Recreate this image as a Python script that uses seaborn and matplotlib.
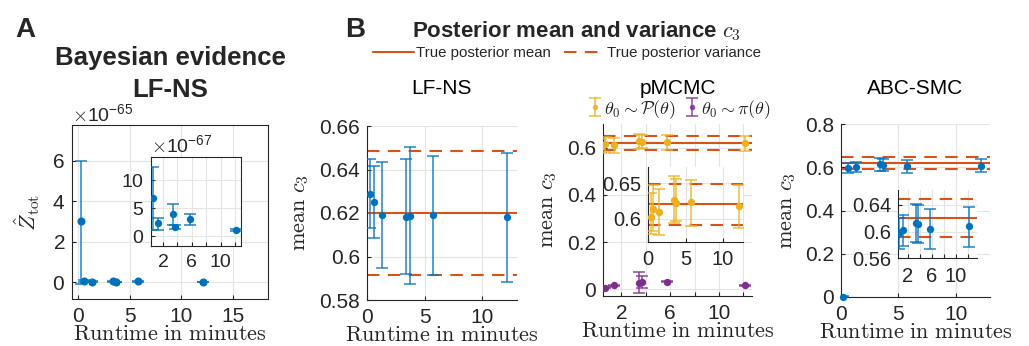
import numpy as np
import matplotlib
matplotlib.use("Agg")
import matplotlib.pyplot as plt
from matplotlib.lines import Line2D
from matplotlib.ticker import FuncFormatter
import seaborn as sns

# ---- data ----
# LF-NS runs: runtime in minutes
lfns_time = [0.25, 0.6, 1.3, 3.4, 3.7, 5.75, 12.1]
# Bayesian evidence Z_tot with lower / upper error bar ends
z_tot = [3.0e-65, 6.8e-67, 2.3e-67, 3.9e-67, 1.6e-67, 3.0e-67, 1.1e-67]
z_low = [-0.1e-65, 1.1e-67, 1.1e-67, 2.0e-67, 1.2e-67, 2.0e-67, 0.9e-67]
z_high = [6.0e-65, 12.4e-67, 3.3e-67, 5.7e-67, 2.0e-67, 3.9e-67, 1.3e-67]
# LF-NS posterior mean of c3
lfns_c3 = [0.6287, 0.6249, 0.6191, 0.6183, 0.6185, 0.6191, 0.6180]
lfns_low = [0.6130, 0.6084, 0.5946, 0.5921, 0.5873, 0.5915, 0.5884]
lfns_high = [0.6447, 0.6418, 0.6436, 0.6448, 0.6502, 0.6463, 0.6474]

# pMCMC runs
pm_time = [0.35, 0.67, 1.42, 3.48, 3.72, 5.78, 12.1]
pm_prior_c3 = [0.6024, 0.6136, 0.6094, 0.6266, 0.6220, 0.6234, 0.6183]
pm_prior_low = [0.579, 0.5836, 0.5776, 0.5948, 0.597, 0.5906, 0.5874]
pm_prior_high = [0.636, 0.6467, 0.641, 0.6593, 0.655, 0.6547, 0.6477]
pm_pi_c3 = [0.005, 0.007, 0.017, 0.028, 0.031, 0.033, 0.017]
pm_pi_low = [0.003, 0.004, 0.014, -0.017, 0.005, 0.030, 0.014]
pm_pi_high = [0.007, 0.010, 0.020, 0.075, 0.055, 0.036, 0.020]

# ABC-SMC runs
abc_time = [0.2, 0.6, 1.3, 3.4, 3.7, 5.8, 12.2]
abc_c3 = [0.002, 0.598, 0.6025, 0.613, 0.611, 0.604, 0.608]
abc_low = [0.0, 0.574, 0.579, 0.584, 0.583, 0.574, 0.577]
abc_high = [0.004, 0.620, 0.625, 0.641, 0.640, 0.633, 0.636]

# true posterior of c3
c3_true_mean = 0.6200
c3_true_spread = 0.0285

BLUE = "#0072BD"
RED = "#D95319"
YELLOW = "#EDB120"
PURPLE = "#7E2F8E"
INK = "#262626"

sns.set_theme(style="whitegrid")
plt.rcParams.update({
    "font.family": ["Liberation Sans", "DejaVu Sans"],
    "mathtext.fontset": "cm",
    "axes.edgecolor": INK,
    "axes.linewidth": 0.8,
    "grid.color": "#e4e4e4",
    "grid.linewidth": 0.8,
    "xtick.color": INK,
    "ytick.color": INK,
    "xtick.direction": "in",
    "ytick.direction": "in",
    "xtick.bottom": True,
    "ytick.left": True,
    "xtick.major.size": 3,
    "ytick.major.size": 3,
    "xtick.major.width": 0.8,
    "ytick.major.width": 0.8,
    "xtick.major.pad": 6,
    "ytick.major.pad": 5,
    "xtick.labelsize": 15,
    "ytick.labelsize": 15,
    "axes.labelsize": 16,
    "axes.labelcolor": INK,
})

W, H = 1029, 346
fig = plt.figure(figsize=(W / 100, H / 100), dpi=100)


def px_axes(left, top, right, bottom):
    return fig.add_axes([left / W, 1 - bottom / H, (right - left) / W, (bottom - top) / H])


def draw_runs(ax, t, m, lo, hi, color, clip=True, label=None, s=28):
    m = np.asarray(m)
    yerr = [m - np.asarray(lo), np.asarray(hi) - m]
    eb = ax.errorbar(t, m, yerr=yerr, fmt="o", ms=3, color=color, ecolor=color,
                     elinewidth=1.2, capsize=4.5, capthick=1.2, alpha=0.8,
                     zorder=3, label=label)
    sns.scatterplot(x=t, y=m, ax=ax, color=color, s=s, linewidth=0, zorder=4,
                    clip_on=clip, legend=False)
    return eb


def true_lines(ax):
    ax.axhline(c3_true_mean, color=RED, lw=1.5, zorder=2)
    for v in (c3_true_mean - c3_true_spread, c3_true_mean + c3_true_spread):
        ax.axhline(v, color=RED, lw=1.5, ls=(0, (6, 4)), zorder=2)


gfmt = FuncFormatter(lambda v, p: f"{v:g}")


def sparse_labels(ax, ticks, shown):
    ax.set_xticks(ticks)
    ax.set_xticklabels([f"{t:g}" if t in shown else "" for t in ticks])


xlab = r"$\mathrm{Runtime\ in\ minutes}$"
ylab = r"$\mathrm{mean}\ c_3$"

# ---- A: Bayesian evidence ----
axA = px_axes(72, 125, 268, 299)
draw_runs(axA, lfns_time, z_tot, z_low, z_high, BLUE, s=34)
axA.set_xlim(-0.6, 18.4)
axA.set_ylim(-0.84e-65, 7.78e-65)
axA.set_xticks([0, 5, 10, 15])
axA.set_yticks([0, 2e-65, 4e-65, 6e-65])
axA.ticklabel_format(axis="y", style="sci", scilimits=(-65, -65), useMathText=True)
axA.yaxis.get_offset_text().set_fontsize(14)
axA.set_xlabel(xlab, labelpad=-2)
axA.set_ylabel(r"$\hat{Z}_{\rm tot}$", labelpad=7)

axAi = px_axes(150.7, 156.7, 240.7, 245.7)
draw_runs(axAi, lfns_time[1:], z_tot[1:], z_low[1:], z_high[1:], BLUE)
axAi.set_xlim(0.3, 12.8)
axAi.set_ylim(-1.7e-67, 14.2e-67)
sparse_labels(axAi, [2, 4, 6, 8, 10, 12], [2, 6, 10])
axAi.set_yticks([0, 5e-67, 10e-67])
axAi.ticklabel_format(axis="y", style="sci", scilimits=(-67, -67), useMathText=True)
axAi.yaxis.get_offset_text().set_fontsize(14)
axAi.tick_params(labelsize=14)

# ---- B: LF-NS ----
ax1 = px_axes(367, 126, 517, 300)
true_lines(ax1)
draw_runs(ax1, lfns_time, lfns_c3, lfns_low, lfns_high, BLUE)
ax1.set_xlim(0, 13)
ax1.set_ylim(0.58, 0.66)
ax1.set_xticks([0, 5, 10])
ax1.set_yticks([0.58, 0.6, 0.62, 0.64, 0.66])
ax1.yaxis.set_major_formatter(gfmt)
ax1.set_xlabel(xlab, labelpad=-2)
ax1.set_ylabel(ylab, labelpad=6)

# ---- B: pMCMC ----
ax2 = px_axes(603, 124, 752, 296)
true_lines(ax2)
h_prior = draw_runs(ax2, pm_time, pm_prior_c3, pm_prior_low, pm_prior_high, YELLOW,
                    label=r"$\theta_0\sim\mathcal{P}(\theta)$")
h_pi = draw_runs(ax2, pm_time, pm_pi_c3, pm_pi_low, pm_pi_high, PURPLE,
                 label=r"$\theta_0\sim\pi(\theta)$")
ax2.set_xlim(0.5, 12.7)
ax2.set_ylim(-0.028, 0.70)
sparse_labels(ax2, [2, 4, 6, 8, 10, 12], [2, 6, 10])
ax2.set_yticks([0, 0.2, 0.4, 0.6])
ax2.yaxis.set_major_formatter(gfmt)
ax2.set_xlabel(xlab, labelpad=-2)
ax2.set_ylabel(ylab, labelpad=6)
ax2.legend(handles=[h_prior, h_pi], loc="lower center", bbox_to_anchor=(0.52, 1.02),
           ncol=2, frameon=False, fontsize=13, handlelength=0.5, handletextpad=0.25,
           columnspacing=0.7, borderaxespad=0, borderpad=0)

ax2i = px_axes(648.3, 167.3, 743, 241.7)
true_lines(ax2i)
draw_runs(ax2i, pm_time, pm_prior_c3, pm_prior_low, pm_prior_high, YELLOW)
ax2i.set_xlim(0, 12.7)
ax2i.set_ylim(0.568, 0.672)
ax2i.set_xticks([0, 5, 10])
ax2i.set_yticks([0.6, 0.65])
ax2i.yaxis.set_major_formatter(gfmt)
ax2i.tick_params(labelsize=14.5)

# ---- B: ABC-SMC ----
ax3 = px_axes(841, 124, 990, 297)
true_lines(ax3)
draw_runs(ax3, abc_time, abc_c3, abc_low, abc_high, BLUE, clip=False)
ax3.set_xlim(0, 13)
ax3.set_ylim(0, 0.8)
ax3.set_xticks([0, 5, 10])
ax3.set_yticks([0, 0.2, 0.4, 0.6, 0.8])
ax3.yaxis.set_major_formatter(gfmt)
ax3.set_xlabel(xlab, labelpad=-2)
ax3.set_ylabel(ylab, labelpad=5)

ax3i = px_axes(898.3, 190, 976.7, 258.3)
true_lines(ax3i)
draw_runs(ax3i, abc_time[1:], abc_c3[1:], abc_low[1:], abc_high[1:], BLUE)
ax3i.set_xlim(0.45, 13.5)
ax3i.set_ylim(0.56, 0.662)
sparse_labels(ax3i, [2, 4, 6, 8, 10, 12], [2, 6, 10])
ax3i.set_yticks([0.56, 0.6, 0.64])
ax3i.yaxis.set_major_formatter(gfmt)
ax3i.tick_params(labelsize=14.5)

for ax in (ax1, ax2, ax3, ax2i, ax3i):
    sns.despine(ax=ax)
for ax in (axA, axAi, ax1, ax2, ax3, ax2i, ax3i):
    ax.set_facecolor("white")
    ax.grid(True)

# ---- titles and shared legend ----
fig.text(15 / W, 1 - 37 / H, "A", fontsize=20, fontweight="bold", va="baseline")
fig.text(345 / W, 1 - 37 / H, "B", fontsize=20, fontweight="bold", va="baseline")
fig.text(170 / W, 1 - 65 / H, "Bayesian evidence", fontsize=18.5, fontweight="bold",
         ha="center", va="baseline")
fig.text(170 / W, 1 - 97 / H, "LF-NS", fontsize=18.5, fontweight="bold",
         ha="center", va="baseline")
fig.text(576 / W, 1 - 37 / H, r"Posterior mean and variance $c_3$", fontsize=16,
         fontweight="bold", ha="center", va="baseline")
for ax, name in ((ax1, "LF-NS"), (ax2, "pMCMC"), (ax3, "ABC-SMC")):
    pos = ax.get_position()
    fig.text(pos.x0 + pos.width / 2, 1 - 94 / H, name, fontsize=15, ha="center",
             va="baseline", color="black")

handles = [Line2D([], [], color=RED, lw=1.5),
           Line2D([], [], color=RED, lw=1.5, ls=(0, (6, 4)))]
fig.legend(handles, ["True posterior mean", "True posterior variance"],
           loc="center", bbox_to_anchor=(567 / W, 1 - 53 / H), ncol=2,
           frameon=False, fontsize=10.8, handlelength=2.7, handletextpad=0.15,
           columnspacing=0.9, borderpad=0, borderaxespad=0)

fig.savefig("out.png", dpi=100, facecolor="white")
